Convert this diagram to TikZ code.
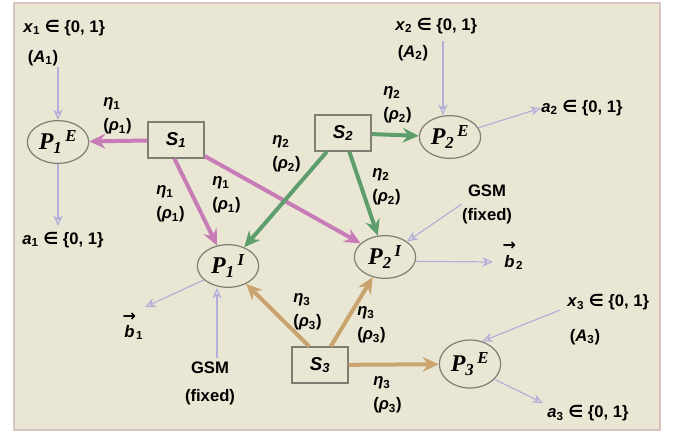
\documentclass[tikz,border=0pt]{standalone}
\usepackage{fontspec}
\setmainfont{Liberation Sans}
\newfontfamily\pfont{Liberation Serif}
\newfontfamily\symf{DejaVu Sans}
\usetikzlibrary{arrows.meta, shapes.geometric}
\definecolor{bgpane}{HTML}{E9E7D4}
\definecolor{bgedge}{HTML}{D9C4C4}
\definecolor{boxgray}{HTML}{7E7E72}
\definecolor{lmag}{HTML}{C77BB7}
\definecolor{lgreen}{HTML}{5E9E6C}
\definecolor{ltan}{HTML}{C9A46E}
\definecolor{lsig}{HTML}{B3AFDA}
\newcommand{\elem}{{\symf\bfseries ∈}}
\newcommand{\bvec}[1]{\shortstack{{\symf\bfseries\fontsize{12}{12}\selectfont →}\\[0pt]\textit{b}}\textsubscript{#1}}
\tikzset{
  % sorgente
  srcbox/.style={draw=boxgray, fill=bgpane, line width=0.9pt, minimum width=42pt,
    minimum height=27pt, inner sep=0pt, font=\fontsize{14}{14}\selectfont\bfseries\itshape},
  % nodo P (ellisse)
  pnode/.style={ellipse, draw=boxgray, line width=0.9pt, minimum width=46pt,
    minimum height=32pt, inner sep=0pt, font=\pfont\fontsize{18}{18}\selectfont\bfseries\itshape},
  % collegamento sorgente -> nodo
  lnk/.style={line width=3pt, -{Stealth[length=12pt, width=11pt, inset=4pt]}},
  % segnale sottile
  sig/.style={line width=0.9pt, lsig, -{Stealth[open, length=8pt, width=7pt]}},
  % etichette
  lbl/.style={font=\fontsize{12.5}{18}\selectfont\bfseries, align=left, inner sep=0pt},
}
\begin{document}
\begin{tikzpicture}[x=0.75pt, y=-0.75pt]
  \useasboundingbox (0,0) rectangle (673,433);
  \draw[bgedge, fill=bgpane, line width=1.2pt] (14,3) rectangle (660,430);
  % nodi
  \node[pnode] (P1E) at (58,142) {P\textsubscript{1}\textsuperscript{\,E}};
  \node[pnode] (P2E) at (450,137) {P\textsubscript{2}\textsuperscript{\,E}};
  \node[pnode] (P1I) at (228,266) {P\textsubscript{1}\textsuperscript{\,I}};
  \node[pnode] (P2I) at (385,257) {P\textsubscript{2}\textsuperscript{\,I}};
  \node[pnode, minimum height=36pt] (P3E) at (470,364) {P\textsubscript{3}\textsuperscript{\,E}};
  \node[srcbox] (S1) at (176,140) {S\textsubscript{1}};
  \node[srcbox] (S2) at (343,133) {S\textsubscript{2}};
  \node[srcbox] (S3) at (320,365) {S\textsubscript{3}};
  % collegamenti
  \draw[lnk, lmag] (S1) -- (P1E);
  \draw[lnk, lmag] (S1.265) -- (P1I.118);
  \draw[lnk, lmag] (S1) -- (P2I);
  \draw[lnk, lgreen] (S2) -- (P2E);
  \draw[lnk, lgreen] (S2) -- (P1I);
  \draw[lnk, lgreen] (S2) -- (P2I);
  \draw[lnk, ltan] (S3.120) -- (P1I);
  \draw[lnk, ltan] (S3.60) -- (P2I);
  \draw[lnk, ltan] (S3) -- (P3E);
  \node[lbl, anchor=west] (l1) at (103,116) {\textit{η}\textsubscript{1}\\(\textit{ρ}\textsubscript{1})};
  \node[lbl, anchor=west] (l2) at (156,204) {\textit{η}\textsubscript{1}\\(\textit{ρ}\textsubscript{1})};
  \node[lbl, anchor=west] (l3) at (212,195) {\textit{η}\textsubscript{1}\\(\textit{ρ}\textsubscript{1})};
  \node[lbl, anchor=west] (l4) at (272,154) {\textit{η}\textsubscript{2}\\(\textit{ρ}\textsubscript{2})};
  \node[lbl, anchor=west] (l5) at (383,105) {\textit{η}\textsubscript{2}\\(\textit{ρ}\textsubscript{2})};
  \node[lbl, anchor=west] (l6) at (372,187) {\textit{η}\textsubscript{2}\\(\textit{ρ}\textsubscript{2})};
  \node[lbl, anchor=west] (l7) at (293,312) {\textit{η}\textsubscript{3}\\(\textit{ρ}\textsubscript{3})};
  \node[lbl, anchor=west] (l8) at (357,325) {\textit{η}\textsubscript{3}\\(\textit{ρ}\textsubscript{3})};
  \node[lbl, anchor=west] (l9) at (373,395) {\textit{η}\textsubscript{3}\\(\textit{ρ}\textsubscript{3})};
  % ingressi e uscite
  \node[lbl, anchor=west] (x1) at (23,28) {\textit{x}\textsubscript{1} \elem{} \{0, 1\}};
  \node[lbl] (A1) at (43,58) {(\textit{A}\textsubscript{1})};
  \coordinate (x1in) at (58,67);
  \draw[sig] (x1in) -- (P1E.north);
  \coordinate (a1out) at (58,226);
  \draw[sig] (P1E.south) -- (a1out);
  \node[lbl, anchor=west] (a1) at (22,240) {\textit{a}\textsubscript{1} \elem{} \{0, 1\}};
  \node[lbl, anchor=west] (x2) at (395,26) {\textit{x}\textsubscript{2} \elem{} \{0, 1\}};
  \node[lbl] (A2) at (413,53) {(\textit{A}\textsubscript{2})};
  \coordinate (x2in) at (443,41);
  \draw[sig] (x2in) -- (x2in |- P2E.north);
  \node[lbl, anchor=west] (a2) at (541,108) {\textit{a}\textsubscript{2} \elem{} \{0, 1\}};
  \draw[sig] (P2E.18) -- (a2.west);
  \node[lbl, align=center] (g2) at (487,204) {GSM\\(fixed)};
  \draw[sig] (g2.west) -- (P2I.north east);
  \node[lbl] (b2) at (513,256) {\bvec{2}};
  \coordinate (b2in) at (493,262);
  \draw[sig] (P2I.352) -- (b2in);
  \node[lbl] (b1) at (133,326) {\bvec{1}};
  \coordinate (b1in) at (145,307);
  \draw[sig] (P1I.210) -- (b1in);
  \node[lbl, align=center] (g1) at (210,383) {GSM\\[3pt](fixed)};
  \coordinate (g1out) at (217,358);
  \draw[sig] (g1out) -- (g1out |- P1I.south);
  \node[lbl, anchor=west] (x3) at (567,302) {\textit{x}\textsubscript{3} \elem{} \{0, 1\}};
  \node[lbl] (A3) at (585,337) {(\textit{A}\textsubscript{3})};
  \coordinate (x3in) at (560,310);
  \draw[sig] (x3in) -- (P3E.62);
  \node[lbl, anchor=west] (a3) at (547,413) {\textit{a}\textsubscript{3} \elem{} \{0, 1\}};
  \coordinate (a3in) at (543,403);
  \draw[sig] (P3E.328) -- (a3in);
\end{tikzpicture}
\end{document}
